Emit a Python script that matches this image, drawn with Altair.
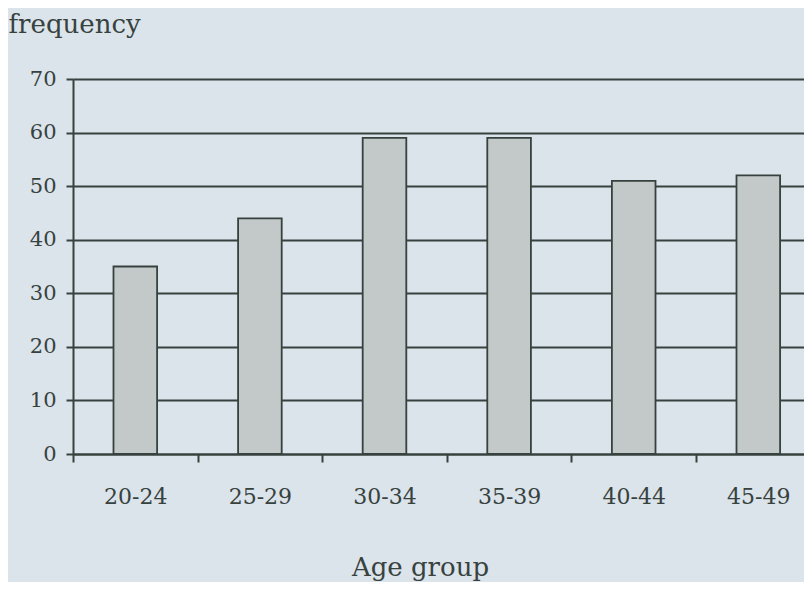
import altair as alt
import pandas as pd

groups = ["20-24", "25-29", "30-34", "35-39", "40-44", "45-49"]
freq = [35, 44, 59, 59, 51, 52]

df = pd.DataFrame({"group": groups, "freq": freq})

INK = "#37423e"
FONT = "DejaVu Serif"

chart = alt.Chart(df).mark_bar(
    width=alt.RelativeBandSize(0.35),
    fill="#c3c9c8",
    stroke=INK,
    strokeWidth=1.8,
).encode(
    x=alt.X(
        "group:N",
        sort=groups,
        scale=alt.Scale(paddingInner=0, paddingOuter=0, range=[0, 747.6]),
        axis=alt.Axis(
            title="Age group",
            titleFont=FONT,
            titleFontSize=26,
            titleFontWeight="normal",
            titleColor=INK,
            titleX=347,
            titleY=121,
            titleAlign="center",
            titleBaseline="alphabetic",
            labelAngle=0,
            labelFont=FONT,
            labelFontSize=22,
            labelColor=INK,
            labelBaseline="alphabetic",
            labelPadding=41,
            tickBand="extent",
            tickSize=8,
            tickColor=INK,
            tickWidth=2,
            domainColor=INK,
            domainWidth=2,
            grid=False,
        ),
    ),
    y=alt.Y(
        "freq:Q",
        scale=alt.Scale(domain=[0, 70], nice=False),
        axis=alt.Axis(
            title="frequency",
            titleFont=FONT,
            titleFontSize=26,
            titleFontWeight="normal",
            titleColor=INK,
            titleAngle=0,
            titleX=-65,
            titleY=-47,
            titleAlign="left",
            titleBaseline="alphabetic",
            values=[0, 10, 20, 30, 40, 50, 60, 70],
            labelFont=FONT,
            labelFontSize=21,
            labelColor=INK,
            labelPadding=10,
            tickSize=7,
            tickColor=INK,
            tickWidth=2,
            domainColor=INK,
            domainWidth=2,
            grid=True,
            gridColor=INK,
            gridWidth=2,
            gridOpacity=1,
        ),
    ),
).properties(
    width=731,
    height=375,
    autosize=alt.AutoSizeParams(type="none"),
    padding={"left": 65, "top": 71, "right": 0, "bottom": 128},
    background="#dbe3eb",
).configure_view(
    stroke=None,
)

chart.save("out.html", embed_options={"renderer": "svg", "actions": False})
